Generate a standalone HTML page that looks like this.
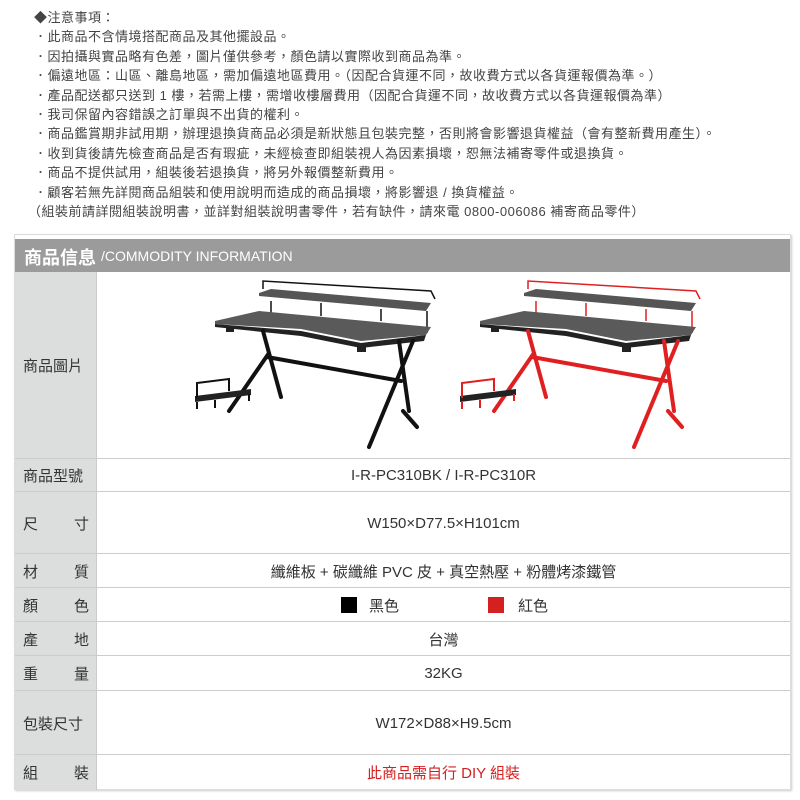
<!DOCTYPE html>
<html><head><meta charset="utf-8"><style>
body{margin:0;width:800px;height:800px;background:#fff;font-family:"Liberation Sans","Noto Sans CJK TC",sans-serif;color:#333;position:relative;overflow:hidden}
.notes{position:absolute;left:34px;top:8px;font-size:13px;line-height:19.4px;color:#444;letter-spacing:0.5px}
.notes div{white-space:nowrap}
.tbl{position:absolute;left:14px;top:234px;width:775px;height:554px;border:1px solid #ddd;box-shadow:1px 1px 2px #ccc;background:#fff}
.hd{position:absolute;left:0;top:4px;width:775px;height:33px;background:#9b9b9b;color:#fff}
.hd b{position:absolute;left:9px;top:5px;font-size:18px}
.hd span{position:absolute;left:86px;top:9px;font-size:14px}
.row{position:absolute;left:0;width:775px;border-top:1px solid #ccc}
.lab{position:absolute;left:0;top:0;bottom:0;width:82px;background:#dcdddd;border-right:1px solid #ccc;font-size:15px;color:#333;display:flex;align-items:center;padding-left:8px;box-sizing:border-box}
.val{position:absolute;left:82px;right:0;top:0;bottom:0;display:flex;align-items:center;justify-content:center;font-size:15px;color:#333}
</style></head><body>
<div class="notes">
<div>◆注意事項：</div>
<div>．此商品不含情境搭配商品及其他擺設品。</div>
<div>．因拍攝與實品略有色差，圖片僅供參考，顏色請以實際收到商品為準。</div>
<div>．偏遠地區：山區、離島地區，需加偏遠地區費用。（因配合貨運不同，故收費方式以各貨運報價為準。）</div>
<div>．產品配送都只送到 1 樓，若需上樓，需增收樓層費用（因配合貨運不同，故收費方式以各貨運報價為準）</div>
<div>．我司保留內容錯誤之訂單與不出貨的權利。</div>
<div>．商品鑑賞期非試用期，辦理退換貨商品必須是新狀態且包裝完整，否則將會影響退貨權益（會有整新費用產生）。</div>
<div>．收到貨後請先檢查商品是否有瑕疵，未經檢查即組裝視人為因素損壞，恕無法補寄零件或退換貨。</div>
<div>．商品不提供試用，組裝後若退換貨，將另外報價整新費用。</div>
<div>．顧客若無先詳閱商品組裝和使用說明而造成的商品損壞，將影響退 / 換貨權益。</div>
<div style="margin-left:-6px">（組裝前請詳閱組裝說明書，並詳對組裝說明書零件，若有缺件，請來電 0800-006086 補寄商品零件）</div>
</div>
<div class="tbl">
<div class="hd"><b>商品信息</b><span>/COMMODITY INFORMATION</span></div>
<div class="row" style="top:37px;height:186px;border-top:none"><div class="lab">商品圖片</div>
<svg style="position:absolute;left:82px;top:0" width="693" height="186" viewBox="96 271 693 186">
<g transform="translate(180,270)">
<path d="M82,18 L82,10 L250,20 L254,28 M90,30 L90,45 M140,32 L140,45 M200,38 L200,50 M246,40 L246,62" fill="none" stroke="#111" stroke-width="1.5"/>
<polygon points="78,22 90,18 250,32 245,40 78,25" fill="#555"/>
<polygon points="34,50 78,40 250,56 245,64 180,70 120,58 34,53" fill="#5a5a5a"/>
<polygon points="34,53 120,60 180,72 245,64 243,70 180,77 120,65 34,56" fill="#222"/>
<rect x="45" y="55" width="8" height="6" fill="#222"/><rect x="176" y="75" width="9" height="6" fill="#222"/>
<g stroke="#111" stroke-width="4" stroke-linecap="round" fill="none">
<path d="M82,60 L100,126 M88,82 L48,140 M232,70 L188,176 M222,140 L236,156 M86,86 L220,110 M218,70 L228,140"/>
</g>
<polygon points="14,125 70,118 70,124 14,131" fill="#222"/>
<path d="M16,127 L16,112 L48,108 L48,120 M16,131 L16,138 M34,129 L34,137 M68,123 L68,130" stroke="#111" stroke-width="2" fill="none"/>
</g>
<g transform="translate(445,270)">
<path d="M82,18 L82,10 L250,20 L254,28 M90,30 L90,45 M140,32 L140,45 M200,38 L200,50 M246,40 L246,62" fill="none" stroke="#e02020" stroke-width="1.5"/>
<polygon points="78,22 90,18 250,32 245,40 78,25" fill="#555"/>
<polygon points="34,50 78,40 250,56 245,64 180,70 120,58 34,53" fill="#5a5a5a"/>
<polygon points="34,53 120,60 180,72 245,64 243,70 180,77 120,65 34,56" fill="#222"/>
<rect x="45" y="55" width="8" height="6" fill="#222"/><rect x="176" y="75" width="9" height="6" fill="#222"/>
<g stroke="#e02020" stroke-width="4" stroke-linecap="round" fill="none">
<path d="M82,60 L100,126 M88,82 L48,140 M232,70 L188,176 M222,140 L236,156 M86,86 L220,110 M218,70 L228,140"/>
</g>
<polygon points="14,125 70,118 70,124 14,131" fill="#222"/>
<path d="M16,127 L16,112 L48,108 L48,120 M16,131 L16,138 M34,129 L34,137 M68,123 L68,130" stroke="#e02020" stroke-width="2" fill="none"/>
</g>
</svg></div>
<div class="row" style="top:223px;height:33px"><div class="lab">商品型號</div><div class="val">I-R-PC310BK / I-R-PC310R</div></div>
<div class="row" style="top:256px;height:62px"><div class="lab"><span>尺</span><span style="margin-left:36px">寸</span></div><div class="val">W150×D77.5×H101cm</div></div>
<div class="row" style="top:318px;height:34px"><div class="lab"><span>材</span><span style="margin-left:36px">質</span></div><div class="val">纖維板 + 碳纖維 PVC 皮 + 真空熱壓 + 粉體烤漆鐵管</div></div>
<div class="row" style="top:352px;height:34px"><div class="lab"><span>顏</span><span style="margin-left:36px">色</span></div><div class="val"><span style="position:absolute;left:244px;top:9px;width:16px;height:16px;background:#000"></span><span style="position:absolute;left:272px;top:7px">黑色</span><span style="position:absolute;left:391px;top:9px;width:16px;height:16px;background:#d52020"></span><span style="position:absolute;left:421px;top:7px">紅色</span></div></div>
<div class="row" style="top:386px;height:34px"><div class="lab"><span>產</span><span style="margin-left:36px">地</span></div><div class="val">台灣</div></div>
<div class="row" style="top:420px;height:35px"><div class="lab"><span>重</span><span style="margin-left:36px">量</span></div><div class="val">32KG</div></div>
<div class="row" style="top:455px;height:64px"><div class="lab">包裝尺寸</div><div class="val">W172×D88×H9.5cm</div></div>
<div class="row" style="top:519px;height:35px"><div class="lab"><span>組</span><span style="margin-left:36px">裝</span></div><div class="val" style="color:#d52020">此商品需自行 DIY 組裝</div></div>
</div>
</body></html>
